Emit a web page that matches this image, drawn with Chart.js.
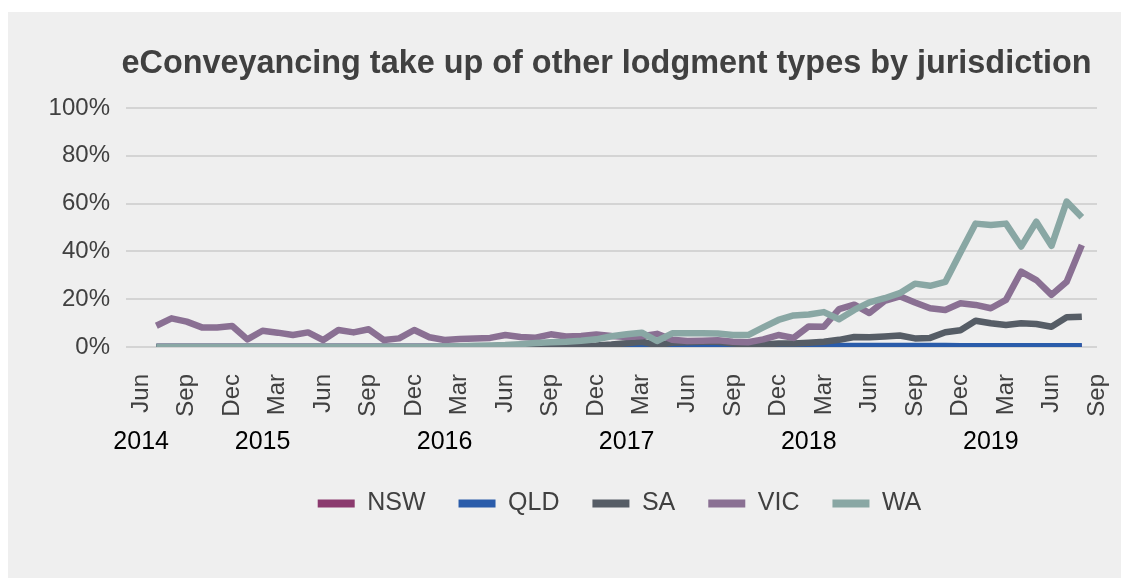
<!DOCTYPE html>
<html><head><meta charset="utf-8">
<script src="https://cdn.jsdelivr.net/npm/chart.js@4.4.1/dist/chart.umd.min.js"></script>
<style>
html,body{margin:0;padding:0;background:#fff;width:1121px;height:578px;overflow:hidden}
#bg{position:absolute;left:8px;top:12px;right:0;bottom:0;background:#efefef}
#c{position:absolute;left:0;top:0}
</style></head><body>
<div id="bg"></div>
<canvas id="c" width="1121" height="578"></canvas>
<script>
// Axis categories (monthly)
const categories = [
 '2014-05','2014-06','2014-07','2014-08','2014-09','2014-10','2014-11','2014-12',
 '2015-01','2015-02','2015-03','2015-04','2015-05','2015-06','2015-07','2015-08','2015-09','2015-10','2015-11','2015-12',
 '2016-01','2016-02','2016-03','2016-04','2016-05','2016-06','2016-07','2016-08','2016-09','2016-10','2016-11','2016-12',
 '2017-01','2017-02','2017-03','2017-04','2017-05','2017-06','2017-07','2017-08','2017-09','2017-10','2017-11','2017-12',
 '2018-01','2018-02','2018-03','2018-04','2018-05','2018-06','2018-07','2018-08','2018-09','2018-10','2018-11','2018-12',
 '2019-01','2019-02','2019-03','2019-04','2019-05','2019-06','2019-07','2019-08','2019-09'
];
const monthNames = ['Jan','Feb','Mar','Apr','May','Jun','Jul','Aug','Sep','Oct','Nov','Dec'];
const tickMonths = [3, 6, 9, 12];
const yearLabels = ['2014','2015','2016','2017','2018','2019'];
const yearAnchors = ['2014-06','2015-02','2016-02','2017-02','2018-02','2019-02'];
const yTicks = [0, 20, 40, 60, 80, 100];
const dataStart = '2014-07'; // series run Jul 2014 - Aug 2019

const seriesNames = ['NSW','QLD','SA','VIC','WA'];
const nsw = [0,0,0,0,0,0,0,0,0,0, 0,0,0,0,0,0,0,0,0,0, 0,0,0,0,0,0,0,0,0,0,
             0,0,0,0,0,0,0,0,0,0, 0,0,0,0,0,0,0,0,0,0, 0,0,0,0,0,0,0,0,0,0, 0,0];
const qld = [0,0,0,0,0,0,0,0,0,0, 0,0,0,0,0,0,0,0,0,0, 0,0,0,0,0,0,0,0,0,0,
             0,0,0,0,0,0,0,0,0,0, 0.3,0.3,0.4,0.4,0.4,0.4,0.4,0.4,0.4,0.4,
             0.4,0.4,0.4,0.3,0.3,0.3,0.3,0.3,0.3,0.3, 0.3,0.3];
const sa  = [0,0,0,0,0,0,0,0,0,0, 0,0,0,0,0,0,0,0,0,0, 0,0,0,0,0,0,
             0.1,0.3,0.4,0.6,1.0,1.6,2.2,0.8,1.8,2.0,2.2,2.2,1.5,1.0,1.0,1.5,1.5,1.8,2.2,3.0,
             4.2,4.1,4.4,4.8,3.6,3.8,6.2,7.0,11.0,9.9,9.2,9.9,9.6,8.5,12.4,12.7];
const vic = [8.9,12.0,10.6,8.2,8.2,8.8,3.2,6.8,6.0,5.0, 6.1,2.9,7.1,6.1,7.4,2.9,3.6,7.1,4.1,2.9,
             3.3,3.6,3.8,5.0,4.2,3.9,5.3,4.4,4.6,5.2, 4.6,4.2,4.5,5.5,3.0,2.5,2.6,2.8,2.2,2.0,
             3.2,5.0,3.8,8.6,8.5,15.8,17.7,14.2,19.3,21.2, 18.6,16.2,15.5,18.3,17.6,16.2,19.7,31.5,28.0,21.8,
             27.3,42.7];
const wa  = [0,0,0,0,0,0,0,0,0,0, 0,0,0,0,0,0,0,0,0,
             0.2,0.3,0.5,0.6,0.8,1.2,1.7,2.0,2.2,2.6,3.2,4.5,5.3,6.0,2.5,5.7,5.8,5.8,5.6,5.0,
             5.0,8.2,11.3,13.2,13.6,14.6,11.6,15.5,18.7,20.4,22.5,26.5,25.6,27.2,39.5,51.6,51.0,51.6,
             42.0,52.4,42.3,60.8,54.3];
const colors = ['#8B3A6E','#2A5CAA','#565D66','#8A7093','#89A7A4'];

const FONT = "'Liberation Sans', Arial, sans-serif";
const startIdx = categories.indexOf(dataStart);
const align = s => categories.map((_, i) => { const v = s[i - startIdx]; return v === undefined ? null : v; });
const allSeries = [nsw, qld, sa, vic, wa];

const datasets = allSeries.map((s, k) => ({
  label: seriesNames[k],
  data: align(s),
  borderColor: colors[k],
  backgroundColor: colors[k],
  borderWidth: 6.5,
  pointRadius: 0,
  pointHoverRadius: 0,
  tension: 0,
  borderJoinStyle: 'round',
  borderCapStyle: 'butt',
  order: allSeries.length - k
}));

const layoutFix = {
  id: 'layoutFix',
  afterLayout(chart) {
    const ca = chart.chartArea;
    const lg = chart.legend, tt = chart.titleBlock;
    if (lg) { lg.left = ca.left + 16; lg.right = ca.right; lg.width = lg.right - lg.left; }
    if (tt) { tt.left = ca.left - 10; tt.right = ca.right; tt.width = tt.right - tt.left; }
  }
};
const yearRow = {
  id: 'yearRow',
  afterDraw(chart) {
    const x = chart.scales.x, ctx = chart.ctx;
    ctx.save();
    ctx.font = '25px ' + FONT;
    ctx.fillStyle = '#000000';
    ctx.textAlign = 'center';
    ctx.textBaseline = 'alphabetic';
    yearLabels.forEach((t, k) => {
      const px = x.getPixelForValue(categories.indexOf(yearAnchors[k]));
      ctx.fillText(t, px, 449);
    });
    ctx.restore();
  }
};

new Chart(document.getElementById('c'), {
  type: 'line',
  data: { labels: categories, datasets },
  plugins: [layoutFix, yearRow],
  options: {
    responsive: false,
    animation: false,
    devicePixelRatio: 1,
    layout: { padding: { top: 0, left: 0, right: 24, bottom: 52 } },
    plugins: {
      title: {
        display: true,
        text: 'eConveyancing take up of other lodgment types by jurisdiction',
        color: '#404040',
        font: { family: FONT, size: 32.4, weight: 'bold' },
        padding: { top: 45, bottom: 24 }
      },
      legend: {
        position: 'bottom',
        labels: {
          font: { family: FONT, size: 25 },
          color: '#404040',
          boxWidth: 37,
          boxHeight: 8,
          padding: 33,
          sort: (a, b) => a.datasetIndex - b.datasetIndex,
          generateLabels: (chart) => Chart.defaults.plugins.legend.labels.generateLabels(chart).map(l => Object.assign(l, { lineWidth: 0 }))
        }
      },
      tooltip: { enabled: false }
    },
    scales: {
      x: {
        type: 'category',
        offset: false,
        grid: { display: false, drawTicks: false },
        border: { display: false },
        afterFit: (s) => { s.height = 111; s.paddingLeft = 0; s.paddingRight = 0; },
        ticks: {
          autoSkip: false,
          minRotation: 90,
          maxRotation: 90,
          padding: 27,
          color: '#404040',
          font: { family: FONT, size: 24 },
          callback: (v, i) => {
            const m = parseInt(categories[i].slice(5), 10);
            return tickMonths.includes(m) ? monthNames[m - 1] : '';
          }
        }
      },
      y: {
        min: yTicks[0],
        max: yTicks[yTicks.length - 1],
        afterFit: (s) => { s.width = 126; },
        afterBuildTicks: (s) => { s.ticks = yTicks.map(v => ({ value: v })); },
        grid: { color: '#d4d4d4', lineWidth: 2, drawTicks: false },
        border: { display: false },
        ticks: {
          padding: 16,
          color: '#404040',
          font: { family: FONT, size: 24 },
          callback: v => v + '%'
        }
      }
    }
  }
});
</script>
</body></html>
